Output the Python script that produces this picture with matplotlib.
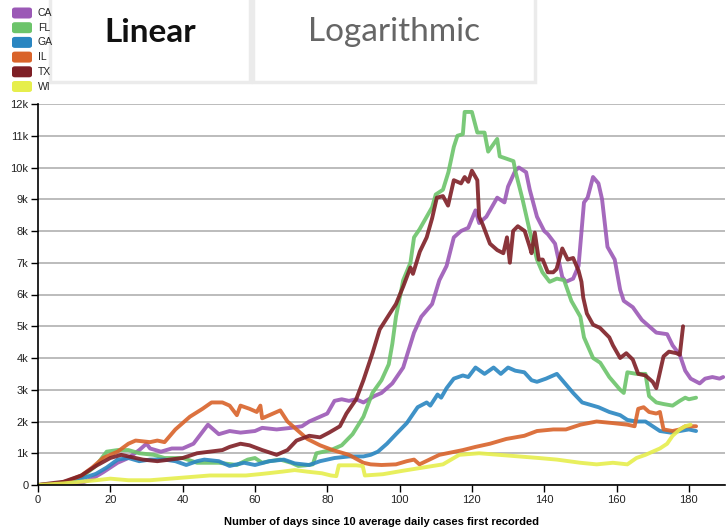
import numpy as np
import matplotlib.pyplot as plt
from matplotlib.patches import Rectangle, FancyBboxPatch

# --- data (day since 10 avg daily cases, 7-day avg cases) ---
states = ["CA", "FL", "GA", "IL", "TX", "WI"]
colors = ["#9b59b6", "#6cc46a", "#2a86c1", "#d9632a", "#7e1f26", "#e6ee4c"]

ca_days = [0, 8, 12, 15, 18, 22, 25, 28, 30, 31, 34, 37, 40, 43, 45, 47, 50, 53, 56, 60, 62, 66, 70, 73, 75, 78,
           80, 82, 84, 86, 88, 90, 93, 95, 98, 101, 104, 106, 109, 111, 113, 115, 117, 119, 121, 122, 124, 127,
           129, 130, 132, 133, 135, 136, 138, 140, 141, 143, 145, 146, 148, 149.5, 151, 152, 153.5, 155, 156,
           157.5, 159.5, 161, 162, 164.5, 167, 170, 171, 174, 175.5, 177.5, 179, 180.5, 183, 184.5, 186.5, 188.5, 189.5]
ca_vals = [0, 10, 60, 200, 400, 700, 850, 1100, 1300, 1150, 1050, 1150, 1150, 1300, 1600, 1900, 1600, 1700, 1650,
           1700, 1800, 1750, 1800, 1850, 2000, 2150, 2250, 2650, 2700, 2650, 2700, 2600, 2800, 2900, 3200, 3700,
           4800, 5300, 5700, 6450, 6900, 7800, 8000, 8100, 8650, 8250, 8450, 9050, 8900, 9400, 9900, 10000, 9850,
           9300, 8450, 8000, 7900, 7600, 6550, 6400, 6500, 6900, 8900, 9050, 9700, 9500, 9000, 7500, 7100, 6150,
           5800, 5600, 5200, 4900, 4800, 4750, 4400, 4100, 3600, 3350, 3200, 3350, 3400, 3350, 3400]

fl_days = [0, 5, 8, 12, 16, 19, 22, 25, 28, 32, 35, 40, 44, 50, 55, 58, 60, 62, 64, 67, 70, 72, 74, 76, 77, 81,
           84, 87, 90, 92.5, 95, 97, 98, 99, 101, 103, 104, 105.5, 107.5, 109, 110, 112, 113.5, 115, 116, 117.5,
           118, 120, 121.5, 123.5, 124.5, 127, 127.7, 129, 131.5, 132, 134, 136, 138, 139.5, 141.5, 143.5, 145.5,
           147.5, 150, 151, 153.5, 155.5, 158, 161, 162, 163, 165.5, 168, 169, 171, 173, 175.5, 177.5, 179, 180, 182]
fl_vals = [0, 30, 100, 250, 600, 1050, 1100, 1100, 1000, 950, 850, 850, 700, 700, 630, 800, 850, 700, 750, 800,
           700, 600, 620, 650, 1000, 1100, 1250, 1600, 2150, 2900, 3300, 3800, 4450, 5300, 6450, 7000, 7800,
           8050, 8450, 8750, 9150, 9300, 9850, 10650, 11000, 11050, 11750, 11750, 11100, 11100, 10500, 10900,
           10350, 10300, 10200, 9900, 9000, 8000, 7100, 6700, 6400, 6500, 6450, 5800, 5300, 4650, 4000, 3850,
           3400, 3000, 2900, 3550, 3500, 3500, 2800, 2600, 2550, 2500, 2650, 2750, 2700, 2750]

ga_days = [0, 6, 12, 16, 19, 22, 25, 28, 31, 35, 38, 41, 44, 46, 50, 53, 57, 60, 64, 68, 71, 75, 78, 82, 86, 90,
           92, 94, 96.5, 99, 102, 105, 107.5, 108.5, 110.5, 111.5, 113, 115, 117.5, 119, 121, 123.5, 126, 128,
           130, 132, 134.5, 136.5, 138, 140.5, 143.5, 145, 148, 150.5, 153.5, 155, 158, 161, 163, 165.5, 168,
           170, 172, 175, 177.5, 180, 182]
ga_vals = [0, 40, 200, 350, 550, 800, 850, 750, 800, 800, 750, 630, 750, 800, 750, 600, 700, 630, 750, 800, 680,
           630, 750, 850, 900, 900, 950, 1050, 1300, 1600, 1950, 2450, 2600, 2500, 2850, 2750, 3050, 3350, 3450,
           3400, 3700, 3500, 3700, 3500, 3700, 3600, 3550, 3300, 3250, 3350, 3500, 3300, 2900, 2600, 2500, 2450,
           2300, 2200, 2050, 2000, 2000, 1850, 1700, 1650, 1700, 1750, 1700]

il_days = [0, 5, 8, 12, 15, 18, 22, 25, 27, 31, 33, 35, 38, 42, 45.5, 48, 51, 53, 55, 56, 58.5, 60.5, 61.5, 62,
           64, 67, 69, 71.5, 74.5, 78, 81.5, 86, 90, 92, 95, 99, 102, 104, 105.5, 111, 117.5, 121, 125, 129.5,
           134.5, 138, 142.5, 146, 150, 154.5, 159, 163, 165, 166, 167.5, 169, 171, 172, 173, 175.5, 177.5, 179, 182]
il_vals = [0, 40, 120, 300, 550, 850, 1050, 1300, 1400, 1350, 1400, 1350, 1750, 2150, 2400, 2600, 2600, 2500,
           2200, 2500, 2400, 2300, 2500, 2100, 2200, 2350, 2000, 1750, 1450, 1250, 1100, 950, 700, 650, 630, 650,
           750, 800, 650, 950, 1100, 1200, 1300, 1450, 1550, 1700, 1750, 1750, 1900, 2000, 1950, 1900, 1850,
           2400, 2450, 2300, 2250, 2300, 1750, 1700, 1750, 1850, 1850]

tx_days = [0, 4, 7, 12, 16, 20, 23, 25, 29, 33, 36.5, 40, 44, 47.5, 51, 53, 56, 58.5, 62, 66, 69, 71.5, 75, 78,
           80.5, 83.5, 85.3, 88, 90, 92.5, 94.5, 97.3, 99, 101, 103, 103.7, 105.6, 107.5, 109, 110.3, 112, 113.4,
           115, 117, 118, 119, 120, 121.5, 122, 123, 125, 127, 128.7, 129.7, 130.5, 131.4, 132.7, 134.6, 136,
           136.5, 137.4, 138.5, 139.6, 141, 142.5, 143.4, 145, 146.5, 148, 149.5, 150.3, 150.8, 151.8, 153.5,
           155.4, 158, 159, 161, 162.7, 164.5, 166, 168, 170, 171, 173, 174.5, 176.6, 177.5, 178.4]
tx_vals = [0, 60, 100, 300, 600, 850, 950, 900, 800, 750, 800, 850, 1000, 1050, 1100, 1200, 1300, 1250, 1100,
           950, 1100, 1400, 1550, 1500, 1650, 1850, 2250, 2700, 3300, 4150, 4900, 5400, 5700, 6250, 6850, 6650,
           7350, 7800, 8400, 9050, 9100, 8800, 9600, 9500, 9700, 9550, 9900, 9600, 8450, 8200, 7600, 7400, 7300,
           7800, 7000, 8000, 8150, 8000, 7500, 7300, 7950, 7100, 7100, 6700, 6700, 6800, 7450, 7100, 7150, 6750,
           6400, 5900, 5400, 5050, 4950, 4650, 4400, 4000, 4150, 3950, 3500, 3450, 3250, 3050, 4050, 4200, 4150,
           4100, 5000]

wi_days = [0, 7, 16, 20, 25, 31, 36.5, 42, 47.5, 53, 57.5, 62, 67.5, 71, 74.5, 78.5, 81, 82.5, 83.2, 88, 89.8,
           90.4, 95.4, 101, 106.5, 112, 116.5, 122, 127.5, 133, 138.5, 143.5, 150, 154.5, 159, 163, 165.5, 168,
           170, 172, 174, 175.5, 177.5, 179, 180.5]
wi_vals = [0, 50, 150, 200, 150, 150, 200, 250, 300, 300, 300, 350, 420, 470, 420, 370, 300, 280, 620, 620, 600,
           300, 340, 450, 550, 650, 950, 1000, 950, 900, 850, 800, 700, 650, 700, 650, 850, 950, 1050, 1150, 1300,
           1550, 1750, 1850, 1900]

series_days = [ca_days, fl_days, ga_days, il_days, tx_days, wi_days]
series_vals = [ca_vals, fl_vals, ga_vals, il_vals, tx_vals, wi_vals]

x_ticks = list(range(0, 181, 20))
y_ticks = list(range(0, 12001, 1000))
y_tick_labels = ["0"] + [f"{v // 1000}k" for v in y_ticks[1:]]

plt.rcParams['font.family'] = ['Liberation Sans', 'DejaVu Sans']

fig = plt.figure(figsize=(7.27, 5.31), dpi=100)
W, H = 727, 531

# --- main plot ---
ax = fig.add_axes([38 / W, (H - 485) / H, (725 - 38) / W, (485 - 104) / H])
for days, vals, c in zip(series_days, series_vals, colors):
    ax.plot(days, vals, color=c, lw=2.8, alpha=0.9, solid_joinstyle='round', solid_capstyle='round')

ax.set_xlim(0, 190)
ax.set_ylim(0, 12000)
ax.set_xticks(x_ticks)
ax.set_yticks(y_ticks)
ax.set_yticklabels(y_tick_labels)
ax.tick_params(axis='both', labelsize=8, length=5, width=1, color='black', labelcolor='#222222', pad=2)
ax.grid(axis='y', color='#b0b0b0', lw=1.2)
ax.set_axisbelow(True)
for s in ['top', 'right']:
    ax.spines[s].set_visible(False)
for s in ['left', 'bottom']:
    ax.spines[s].set_linewidth(1.2)
ax.set_xlabel("Number of days since 10 average daily cases first recorded",
              fontsize=8, fontweight='bold', labelpad=9)

# --- legend (top-left) ---
for i, (name, c) in enumerate(zip(states, colors)):
    yc = 13 + i * 14.7
    fig.patches.append(FancyBboxPatch((12 / W, (H - yc - 5.5) / H), 20 / W, 11 / H,
                                      boxstyle="round,pad=0,rounding_size=0.004",
                                      transform=fig.transFigure, fc=c, ec='none'))
    fig.text(38 / W, (H - yc) / H, name, fontsize=7.5, va='center', ha='left', color='#222222')

# --- scale buttons ---
fig.patches.append(Rectangle((50 / W, (H - 82) / H), 200 / W, 90 / H, transform=fig.transFigure,
                             fc='white', ec='#ebebeb', lw=2.5))
fig.patches.append(Rectangle((253 / W, (H - 82) / H), 282 / W, 90 / H, transform=fig.transFigure,
                             fc='white', ec='#ebebeb', lw=2.5))
fig.text(150 / W, (H - 32) / H, "Linear", fontsize=24, fontweight='bold', family=['Lato', 'DejaVu Sans'],
         ha='center', va='center', color='#111111')
fig.text(394 / W, (H - 32) / H, "Logarithmic", fontsize=24, family=['Lato', 'DejaVu Sans'],
         ha='center', va='center', color='#666666')

fig.savefig("out.png", dpi=100)
